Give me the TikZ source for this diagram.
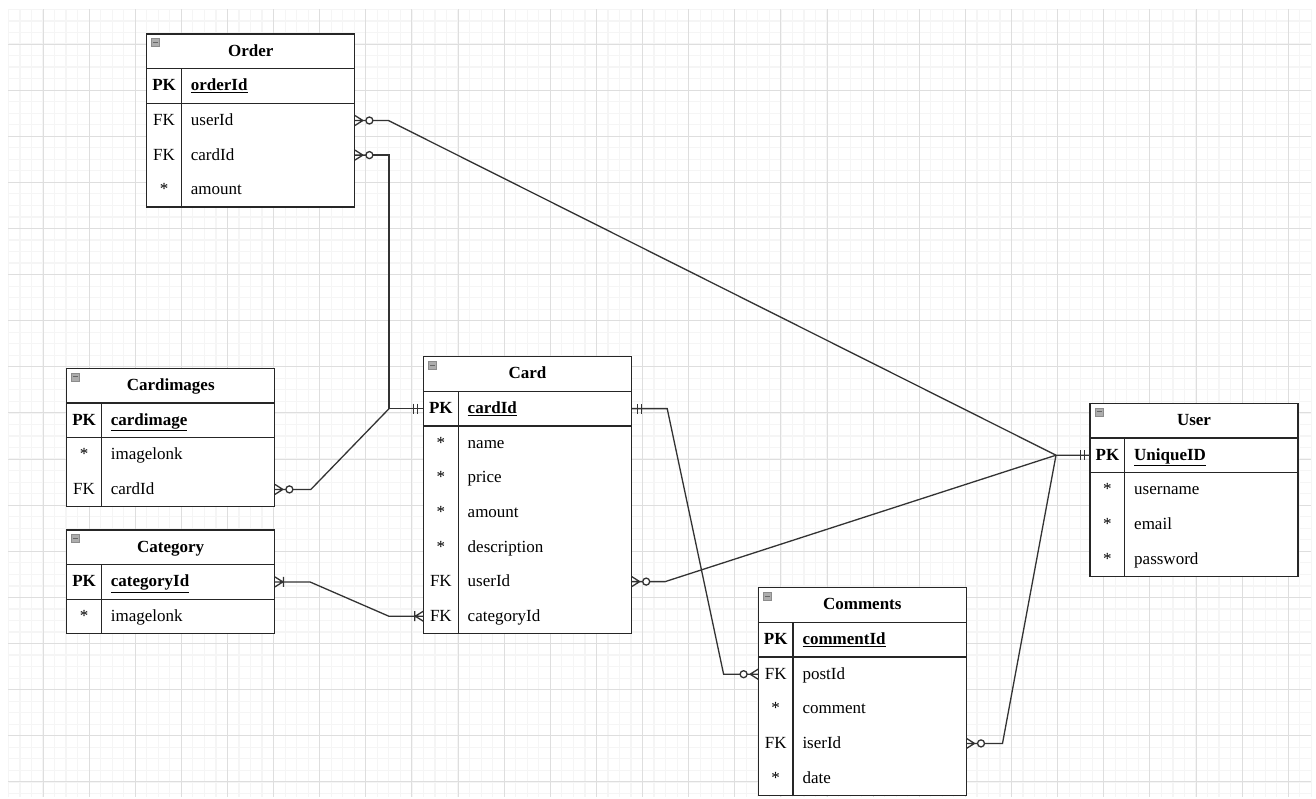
\documentclass[tikz,border=0pt]{standalone}
\usepackage{fontspec}
\setmainfont{Liberation Serif}

% ER arrow tips
\pgfdeclarearrow{
  name = ZM,
  setup code = {
    \pgfarrowssettipend{0pt}
    \pgfarrowssetlineend{-18pt}
    \pgfarrowssetvisualbackend{-18pt}
    \pgfarrowssetbackend{-18pt}
    \pgfarrowshullpoint{0pt}{5pt}
    \pgfarrowshullpoint{0pt}{-5pt}
    \pgfarrowshullpoint{-18pt}{0pt}
  },
  drawing code = {
    \pgfpathmoveto{\pgfpoint{0pt}{5pt}}
    \pgfpathlineto{\pgfpoint{-8pt}{0pt}}
    \pgfpathlineto{\pgfpoint{0pt}{-5pt}}
    \pgfpathmoveto{\pgfpoint{0pt}{0pt}}
    \pgfpathlineto{\pgfpoint{-11pt}{0pt}}
    \pgfusepathqstroke
    \pgfpathcircle{\pgfpoint{-14.5pt}{0pt}}{3.5pt}
    \pgfusepathqstroke
  }
}
\pgfdeclarearrow{
  name = MO,
  setup code = {
    \pgfarrowssettipend{0pt}
    \pgfarrowssetlineend{0pt}
    \pgfarrowssetvisualbackend{-10pt}
    \pgfarrowssetbackend{-10pt}
    \pgfarrowshullpoint{0pt}{5pt}
    \pgfarrowshullpoint{0pt}{-5pt}
    \pgfarrowshullpoint{-10pt}{5pt}
    \pgfarrowshullpoint{-10pt}{-5pt}
  },
  drawing code = {
    \pgfpathmoveto{\pgfpoint{-5.5pt}{5pt}}
    \pgfpathlineto{\pgfpoint{-5.5pt}{-5pt}}
    \pgfpathmoveto{\pgfpoint{-9.5pt}{5pt}}
    \pgfpathlineto{\pgfpoint{-9.5pt}{-5pt}}
    \pgfusepathqstroke
  }
}
\pgfdeclarearrow{
  name = OM,
  setup code = {
    \pgfarrowssettipend{0pt}
    \pgfarrowssetlineend{-8pt}
    \pgfarrowssetvisualbackend{-9pt}
    \pgfarrowssetbackend{-9pt}
    \pgfarrowshullpoint{0pt}{5pt}
    \pgfarrowshullpoint{0pt}{-5pt}
    \pgfarrowshullpoint{-9pt}{5pt}
    \pgfarrowshullpoint{-9pt}{-5pt}
  },
  drawing code = {
    \pgfpathmoveto{\pgfpoint{0pt}{5pt}}
    \pgfpathlineto{\pgfpoint{-8pt}{0pt}}
    \pgfpathlineto{\pgfpoint{0pt}{-5pt}}
    \pgfpathmoveto{\pgfpoint{0pt}{0pt}}
    \pgfpathlineto{\pgfpoint{-8pt}{0pt}}
    \pgfpathmoveto{\pgfpoint{-8.5pt}{5pt}}
    \pgfpathlineto{\pgfpoint{-8.5pt}{-5pt}}
    \pgfusepathqstroke
  }
}

\tikzset{
  tbl/.style={draw=black!85, line width=1.3pt},
  keyt/.style={anchor=base, inner sep=0pt, text=black, font=\fontsize{17}{20}\selectfont},
  fldt/.style={anchor=base west, inner sep=0pt, text=black, font=\fontsize{17}{20}\selectfont},
  ttl/.style={anchor=base, inner sep=0pt, text=black, font=\fontsize{17}{20}\selectfont\bfseries},
  rowbox/.style={minimum width=208pt, minimum height=34.6pt, inner sep=0pt, draw=none},
  conn/.style={draw=black!80, line width=1.3pt},
  minorg/.style={draw=black!4, line width=1.2pt},
  majorg/.style={draw=black!13, line width=1pt},
}

% #1 name, #2 x, #3 y, #4 nrows, #5 title, #6 rows key/field
\newcommand{\ertable}[6]{%
  \fill[white] (#2,#3) rectangle (#2+208,#3+34.6*#4+34.6);
  \node[rowbox] (#1) at (#2+104,#3+17.3) {};
  \node[ttl] (#1-t) at (#2+104,#3+22) {#5};
  \foreach \k/\f [count=\i] in {#6} {
    \node[rowbox] (#1-\i) at (#2+104,#3+17.3+34.6*\i) {};
    \node[keyt] (#1-\i-k) at (#2+17.4,#3+22.3+34.6*\i) {\k};
    \node[fldt] (#1-\i-f) at (#2+44,#3+22.3+34.6*\i) {\f};
  }
  \draw[tbl] (#2,#3) rectangle (#2+208,#3+34.6*#4+34.6);
  \draw[tbl] (#2,#3+34.6) -- (#2+208,#3+34.6);
  \draw[tbl] (#2,#3+69.2) -- (#2+208,#3+69.2);
  \draw[tbl] (#2+34.8,#3+34.6) -- (#2+34.8,#3+34.6*#4+34.6);
  \draw[fill=black!32, draw=black!45, line width=0.6pt] (#2+5,#3+4.5) rectangle (#2+13,#3+12.5);
  \draw[black!60, line width=1pt] (#2+6.5,#3+8.5) -- (#2+11.5,#3+8.5);
}

\begin{document}
\begin{tikzpicture}[x=1pt, y=-1pt]
\useasboundingbox (0,0) rectangle (1316,798);
\fill[white] (0,0) rectangle (1316,798);

% grid
\foreach \i in {0,...,113} {
  \pgfmathsetmacro\xx{8.4+11.53*\i}
  \draw[minorg] (\xx,9.4) -- (\xx,797);
}
\foreach \i in {0,...,68} {
  \pgfmathsetmacro\yy{9.4+11.53*\i}
  \draw[minorg] (8.4,\yy) -- (1311.3,\yy);
}
\foreach \i in {0,...,27} {
  \pgfmathsetmacro\xx{43+46.12*\i}
  \draw[majorg] (\xx,9.4) -- (\xx,797);
}
\foreach \i in {0,...,16} {
  \pgfmathsetmacro\yy{44+46.12*\i}
  \draw[majorg] (8.4,\yy) -- (1311.3,\yy);
}

% tables
\ertable{order}{146.7}{34}{4}{Order}{\textbf{PK}/\textbf{\underline{orderId}}, FK/userId, FK/cardId, */amount}
\ertable{cardimages}{66.7}{368.3}{3}{Cardimages}{\textbf{PK}/\textbf{\underline{cardimage}}, */imagelonk, FK/cardId}
\ertable{category}{66.7}{530}{2}{Category}{\textbf{PK}/\textbf{\underline{categoryId}}, */imagelonk}
\ertable{card}{423.5}{356.7}{7}{Card}{\textbf{PK}/\textbf{\underline{cardId}}, */name, */price, */amount, */description, FK/userId, FK/categoryId}
\ertable{user}{1090}{403.3}{4}{User}{\textbf{PK}/\textbf{\underline{UniqueID}}, */username, */email, */password}
\ertable{comments}{758.3}{587.7}{5}{Comments}{\textbf{PK}/\textbf{\underline{commentId}}, FK/postId, */comment, FK/iserId, */date}

% junction points
\coordinate (hub) at (1056,455.2);
\path (card-1.west) ++(-34.2,0) coordinate (jc);

% connectors
\draw[conn, {ZM}-{MO}] (order-2.east) -- ++(33.5,0) -- (hub) -- (user-1.west);
\draw[conn, {ZM}-{MO}] (order-3.east) -| (jc) -- (card-1.west);
\draw[conn, {ZM}-] (cardimages-3.east) -- ++(36,0) -- (jc);
\draw[conn, {OM}-{OM}] (category-1.east) -- ++(35,0) -- ([xshift=-34.5pt]card-7.west) -- (card-7.west);
\draw[conn, {MO}-{ZM}] (card-1.east) -- ++(35.5,0) -- ([xshift=-34.5pt]comments-2.west) -- (comments-2.west);
\draw[conn, {ZM}-] (card-6.east) -- ++(33.5,0) -- (hub);
\draw[conn, {ZM}-] (comments-4.east) -- ++(36,0) -- (hub);
\end{tikzpicture}
\end{document}
